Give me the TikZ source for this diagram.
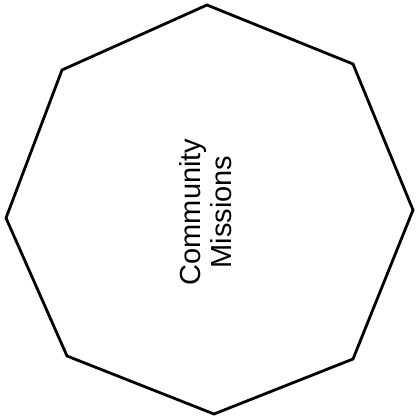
\documentclass[tikz,border=0pt]{standalone}
\usepackage{fontspec}
\setmainfont{Liberation Sans}
\begin{document}
\begin{tikzpicture}[x=1pt,y=-1pt,
  octline/.style={draw=black, line width=2.8pt, line join=miter},
  label/.style={rotate=90, align=center, font=\fontsize{29}{31}\selectfont, inner sep=0pt}]
\useasboundingbox (0,0) rectangle (417,420);
\coordinate (v1) at (207,5);
\coordinate (v2) at (353,64);
\coordinate (v3) at (413,210);
\coordinate (v4) at (353,359);
\coordinate (v5) at (214,414);
\coordinate (v6) at (67,356);
\coordinate (v7) at (6,218);
\coordinate (v8) at (62,70);
\draw[octline] (v1) -- (v2) -- (v3) -- (v4) -- (v5) -- (v6) -- (v7) -- (v8) -- cycle;
\node[label] (t) at (206,212) {Community\\Missions};
\end{tikzpicture}
\end{document}
